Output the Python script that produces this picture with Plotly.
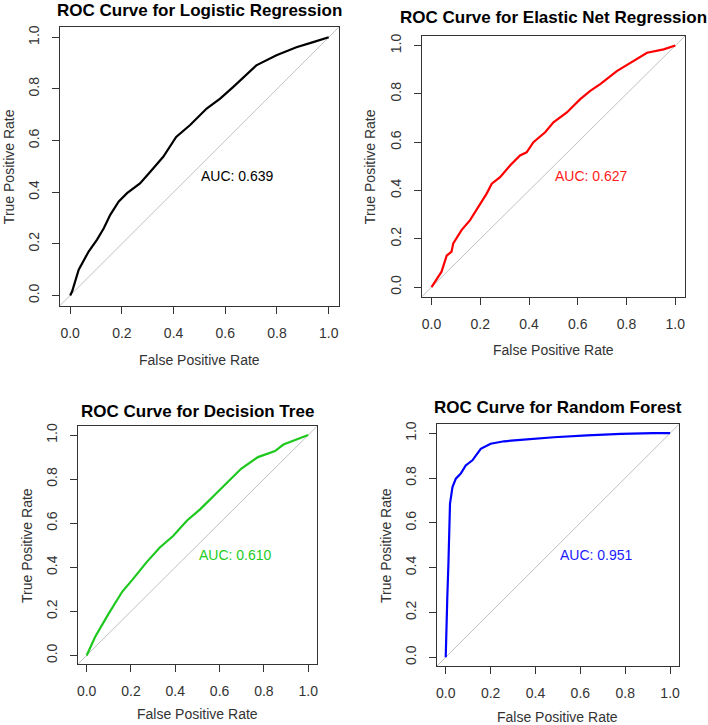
import plotly.graph_objects as go

# ---------------- data ----------------
lr_fpr = [0.0, 0.008, 0.033, 0.072, 0.104, 0.13, 0.155, 0.188, 0.22, 0.27, 0.31, 0.36, 0.41, 0.464,
          0.528, 0.58, 0.63, 0.657, 0.72, 0.798, 0.875, 0.94, 1.0]
lr_tpr = [0.0, 0.017, 0.10, 0.171, 0.216, 0.26, 0.312, 0.364, 0.396, 0.434, 0.479, 0.537, 0.614, 0.66,
          0.724, 0.762, 0.807, 0.833, 0.891, 0.93, 0.961, 0.981, 1.0]

en_fpr = [0.0, 0.041, 0.062, 0.082, 0.089, 0.123, 0.158, 0.192, 0.226, 0.247, 0.281, 0.322, 0.363,
          0.39, 0.418, 0.466, 0.5, 0.555, 0.61, 0.651, 0.692, 0.76, 0.829, 0.884, 0.952, 1.0]
en_tpr = [0.0, 0.064, 0.13, 0.147, 0.181, 0.236, 0.277, 0.332, 0.387, 0.428, 0.455, 0.503, 0.545,
          0.558, 0.6, 0.641, 0.682, 0.723, 0.778, 0.812, 0.84, 0.894, 0.936, 0.97, 0.984, 1.0]

dt_fpr = [0.0, 0.038, 0.1, 0.161, 0.207, 0.268, 0.329, 0.39, 0.452, 0.513, 0.574, 0.636, 0.697,
          0.773, 0.85, 0.888, 0.942, 1.0]
dt_tpr = [0.0, 0.084, 0.191, 0.29, 0.344, 0.42, 0.489, 0.542, 0.611, 0.664, 0.725, 0.786, 0.847,
          0.9, 0.927, 0.957, 0.977, 1.0]

rf_fpr = [0.0, 0.0015, 0.007, 0.012, 0.015, 0.019, 0.03, 0.045, 0.067, 0.089, 0.119, 0.156, 0.2,
          0.26, 0.334, 0.482, 0.63, 0.78, 0.927, 1.0]
rf_tpr = [0.0, 0.079, 0.27, 0.42, 0.567, 0.686, 0.76, 0.797, 0.82, 0.856, 0.879, 0.93, 0.953,
          0.964, 0.97, 0.982, 0.99, 0.997, 1.0, 1.0]

titles = ["ROC Curve for Logistic Regression", "ROC Curve for Elastic Net Regression",
          "ROC Curve for Decision Tree", "ROC Curve for Random Forest"]
auc_labels = ["AUC: 0.639", "AUC: 0.627", "AUC: 0.610", "AUC: 0.951"]
tick_vals = [0.0, 0.2, 0.4, 0.6, 0.8, 1.0]
tick_text = ["0.0", "0.2", "0.4", "0.6", "0.8", "1.0"]
x_title = "False Positive Rate"
y_title = "True Positive Rate"

# ---------------- style / layout ----------------
W, H = 708, 725
AXIS_RANGE = [-0.04, 1.04]
colors = ["#000000", "#ff0000", "#1ec81e", "#0000ff"]
text_colors = ["#000000", "#ff1a1a", "#22cc22", "#1a1aff"]
# plot boxes in pixels: (left, right, top, bottom)
boxes = [(59, 339, 24, 304), (422, 686, 33, 295), (77, 317, 425, 664), (437, 680, 423, 666)]
title_shift = [16, 18, 15, 17]
xtitle_shift = [-54, -53, -50, -51]
FONT = "Liberation Sans, Arial, sans-serif"
AX_COL = "#333333"

series = [(lr_fpr, lr_tpr), (en_fpr, en_tpr), (dt_fpr, dt_tpr), (rf_fpr, rf_tpr)]

fig = go.Figure()
annotations = []
layout = dict(width=W, height=H, margin=dict(l=0, r=0, t=0, b=0), paper_bgcolor="white",
              plot_bgcolor="white", showlegend=False, font=dict(family=FONT, size=14, color=AX_COL))

for i, ((fx, ty), (l, r, t, b)) in enumerate(zip(series, boxes)):
    n = "" if i == 0 else str(i + 1)
    xa, ya = "x" + n, "y" + n
    axis_common = dict(range=AXIS_RANGE, tickvals=tick_vals, ticktext=tick_text, ticks="outside",
                       ticklen=7, tickwidth=1, tickcolor=AX_COL, showline=True, linecolor=AX_COL,
                       linewidth=1, mirror=True, showgrid=False, zeroline=False,
                       tickfont=dict(family=FONT, size=14, color=AX_COL), fixedrange=True)
    layout["xaxis" + n] = dict(axis_common, domain=[l / W, r / W], anchor=ya, ticklabelstandoff=7)
    layout["yaxis" + n] = dict(axis_common, domain=[1 - b / H, 1 - t / H], anchor=xa,
                               tickangle=-90, ticklabelstandoff=7)
    # diagonal reference
    fig.add_trace(go.Scatter(x=AXIS_RANGE, y=AXIS_RANGE, mode="lines", xaxis=xa, yaxis=ya,
                             line=dict(color="#c0c0c0", width=1), hoverinfo="skip"))
    # ROC curve
    fig.add_trace(go.Scatter(x=fx, y=ty, mode="lines", xaxis=xa, yaxis=ya,
                             line=dict(color=colors[i], width=2.2)))
    # AUC label
    annotations.append(dict(x=0.5, y=0.5, xref=xa, yref=ya, text=auc_labels[i], showarrow=False,
                            xanchor="left", yanchor="top",
                            font=dict(family=FONT, size=14, color=text_colors[i])))
    # panel title
    annotations.append(dict(x=0.5, y=1, xref=xa + " domain", yref=ya + " domain", text="<b>" + titles[i] + "</b>",
                            showarrow=False, xanchor="center", yanchor="middle", yshift=title_shift[i],
                            font=dict(family=FONT, size=17, color="#000000")))
    # axis titles
    annotations.append(dict(x=0.5, y=0, xref=xa + " domain", yref=ya + " domain", text=x_title,
                            showarrow=False, xanchor="center", yanchor="middle", yshift=xtitle_shift[i],
                            font=dict(family=FONT, size=14, color=AX_COL)))
    annotations.append(dict(x=0, y=0.5, xref=xa + " domain", yref=ya + " domain", text=y_title,
                            showarrow=False, xanchor="center", yanchor="middle", xshift=-51,
                            textangle=-90, font=dict(family=FONT, size=14, color=AX_COL)))

layout["annotations"] = annotations
fig.update_layout(**layout)
fig.write_html("out.html", config={"displayModeBar": False, "staticPlot": True},
               post_script="document.body.style.margin='0';document.body.style.overflow='hidden';")
